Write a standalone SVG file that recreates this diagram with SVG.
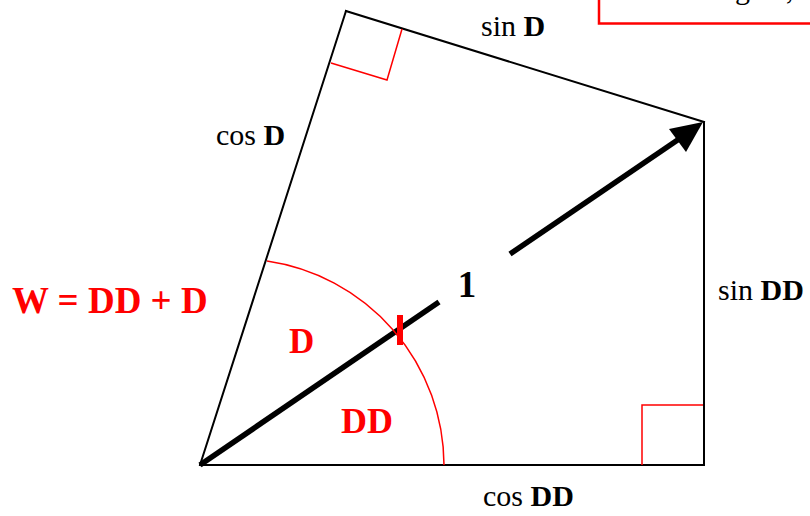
<svg xmlns="http://www.w3.org/2000/svg" width="810" height="516" viewBox="0 0 810 516">
<style>
.edge{stroke:#000;stroke-width:2;fill:none;stroke-linecap:square}
.red{stroke:#f00;stroke-width:1.5;fill:none}
.lbl{font-family:"Liberation Serif","Times New Roman",serif;font-size:30px;fill:#000}
.b{font-weight:bold}
.rl{font-family:"Liberation Serif","Times New Roman",serif;font-weight:bold;fill:#f00}
</style>
<rect width="810" height="516" fill="#fff"/>
<g id="note-box">
<rect x="599" y="-10" width="230" height="33.5" fill="#fff" stroke="#f00" stroke-width="2.5"/>
<text class="lbl" y="-1"><tspan x="735">g</tspan><tspan x="786">,</tspan></text>
</g>
<g id="connectors">
<line class="edge" x1="200" y1="465" x2="346" y2="11"/>
<line class="edge" x1="346" y1="11" x2="704" y2="122"/>
<line class="edge" x1="704" y1="122" x2="704" y2="465"/>
<line class="edge" x1="704" y1="465" x2="200" y2="465"/>
<line x1="200" y1="465" x2="439" y2="302" stroke="#000" stroke-width="5.5"/>
<line x1="510" y1="254" x2="682" y2="137" stroke="#000" stroke-width="5.5"/>
<polygon points="703,122 669,129 686,152" fill="#000"/>
</g>
<g id="angle-marks">
<polyline class="red" points="402,29 387,80 331,63"/>
<polyline class="red" points="642,465 642,405 703,405"/>
<path class="red" d="M267 261 A207 207 0 0 1 444 465"/>
<line x1="400" y1="315" x2="400" y2="345" stroke="#f00" stroke-width="6"/>
</g>
<g id="labels">
<text class="lbl" x="481" y="36">sin <tspan class="b">D</tspan></text>
<text class="lbl" x="216" y="145">cos <tspan class="b">D</tspan></text>
<text class="lbl" x="718" y="300">sin <tspan class="b">DD</tspan></text>
<text class="lbl" x="483" y="506">cos <tspan class="b">DD</tspan></text>
<text class="lbl b" x="467" y="297" style="font-size:37px" text-anchor="middle">1</text>
<text class="rl" x="12" y="313" style="font-size:37px">W = DD + D</text>
<text class="rl" x="289" y="353" style="font-size:35px">D</text>
<text class="rl" x="341" y="433" style="font-size:36px">DD</text>
</g>
</svg>
